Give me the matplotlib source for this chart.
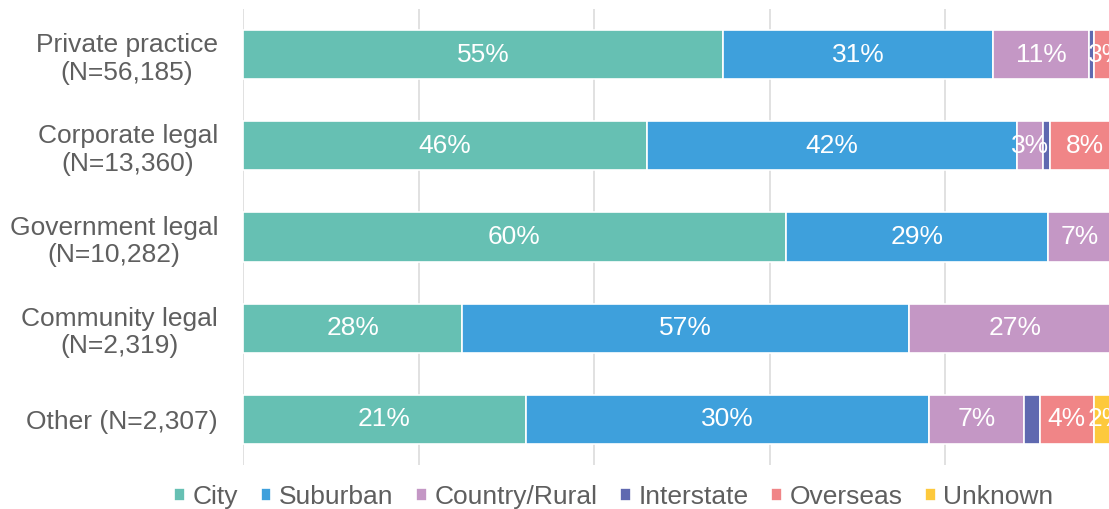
import matplotlib.pyplot as plt
import numpy as np

plt.rcParams['font.family'] = ['Liberation Sans', 'DejaVu Sans']

groups = ['Private practice\n(N=56,185)', 'Corporate legal\n(N=13,360)',
          'Government legal\n(N=10,282)', 'Community legal\n(N=2,319)',
          'Other (N=2,307)']
locations = ['City', 'Suburban', 'Country/Rural', 'Interstate', 'Overseas', 'Unknown']

city = [55, 46, 60, 28, 21]
suburban = [31, 42, 29, 57, 30]
country = [11, 3, 7, 27, 7]
interstate = [0.6, 0.8, 0.4, 0, 1.2]
overseas = [3, 8, 0.6, 0, 4]
unknown = [0, 0, 0, 0, 2]

colors = ['#66c0b3', '#3ea0dc', '#c497c5', '#5f69b0', '#f08587', '#fdc93c']
text_grey = '#5f5f5f'

series = np.array([city, suburban, country, interstate, overseas, unknown], dtype=float)
# each bar is stretched to the full width; labels keep the raw shares
totals = series.sum(axis=0)
widths = series / totals * 100

fig = plt.figure(figsize=(11.09, 5.09), dpi=100)
ax = fig.add_axes([243 / 1109, 44 / 509, 877.5 / 1109, 456 / 509])

y = np.arange(len(groups))
left = np.zeros(len(groups))
handles = []
for i, name in enumerate(locations):
    bars = ax.barh(y, widths[i], left=left, height=0.54, color=colors[i],
                   edgecolor='white', linewidth=1.2, label=name)
    handles.append(bars)
    for j in range(len(groups)):
        if series[i, j] >= 2:
            ax.text(left[j] + widths[i, j] / 2, y[j], f'{series[i, j]:.0f}%',
                    ha='center', va='center', color='white', fontsize=19)
    left += widths[i]

ax.set_xlim(0, 100)
ax.set_ylim(len(groups) - 0.5, -0.5)
ax.set_xticks(np.arange(0, 101, 20))
ax.set_xticklabels([])
ax.set_yticks(y)
ax.set_yticklabels(groups, fontsize=19, color=text_grey)
for lbl in ax.get_yticklabels():
    lbl.set_multialignment('center')
ax.tick_params(axis='both', length=0)
ax.tick_params(axis='y', pad=18)
ax.grid(axis='x', color='#d9d9d9', linewidth=1.1)
ax.set_axisbelow(True)
for s in ax.spines.values():
    s.set_visible(False)

fig.legend(handles=handles, loc='center', bbox_to_anchor=(614 / 1109, 1 - 497 / 509),
           ncol=6, frameon=False, fontsize=19, labelcolor=text_grey,
           handlelength=0.4, handleheight=0.4, handletextpad=0.3,
           columnspacing=0.85, borderaxespad=0)

fig.savefig('out.png', dpi=100)
